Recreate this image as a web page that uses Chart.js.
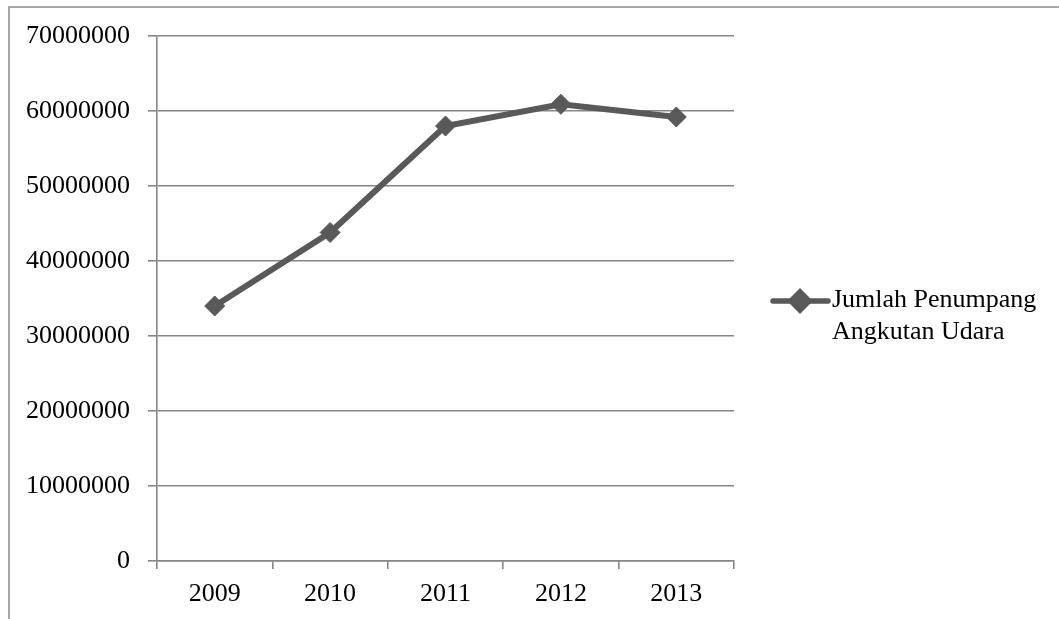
<!DOCTYPE html>
<html>
<head>
<meta charset="utf-8">
<script src="https://cdn.jsdelivr.net/npm/chart.js@4.4.0/dist/chart.umd.min.js"></script>
<style>
  body { margin: 0; background: #fff; }
  #frame { position: absolute; left: 8px; top: 6px; width: 1100px; height: 700px;
           border-left: 2px solid #a8a8a8; border-top: 2px solid #a8a8a8; }
  #wrap { position: absolute; left: 0; top: 0; width: 1059px; height: 619px; }
</style>
</head>
<body>
<div id="frame"></div>
<div id="wrap"><canvas id="chart"></canvas></div>
<script>
const years = ["2009", "2010", "2011", "2012", "2013"];
const passengers = [34000000, 43800000, 58000000, 60900000, 59200000];
const legendLines = ["Jumlah Penumpang", "Angkutan Udara"];
const yTicks = { min: 0, max: 70000000, step: 10000000 };

const lineColor = "#595959";
const gridColor = "#868686";
const font = { family: "'Liberation Serif', 'Times New Roman', serif", size: 26 };

// legend on the right, drawn by hand so the label can wrap on two lines
const sideLegend = {
  id: "sideLegend",
  afterDraw(chart) {
    const ctx = chart.ctx;
    const area = chart.chartArea;
    const x0 = area.right + 39;
    const cy = 301;
    ctx.save();
    ctx.strokeStyle = lineColor;
    ctx.lineWidth = 5.5;
    ctx.lineCap = "round";
    ctx.beginPath();
    ctx.moveTo(x0, cy);
    ctx.lineTo(x0 + 55, cy);
    ctx.stroke();
    Chart.helpers.drawPoint(ctx, {
      pointStyle: "rectRot", radius: 9, rotation: 0, borderWidth: 1
    }, x0 + 27, cy);
    ctx.fillStyle = lineColor;
    ctx.fill();
    ctx.fillStyle = "#000";
    ctx.font = `${font.size}px ${font.family}`;
    ctx.textBaseline = "alphabetic";
    legendLines.forEach((t, i) => ctx.fillText(t, x0 + 59, 307 + i * 32));
    ctx.restore();
  }
};

new Chart(document.getElementById("chart"), {
  type: "line",
  data: {
    labels: years,
    datasets: [{
      label: legendLines.join(" "),
      data: passengers,
      borderColor: lineColor,
      backgroundColor: lineColor,
      borderWidth: 6,
      pointStyle: "rectRot",
      pointRadius: 10,
      pointBorderWidth: 1,
      pointBackgroundColor: lineColor,
      pointBorderColor: lineColor,
      tension: 0
    }]
  },
  options: {
    responsive: true,
    maintainAspectRatio: false,
    animation: false,
    layout: { padding: { top: 36, right: 325, left: 0, bottom: 0 } },
    plugins: { legend: { display: false }, tooltip: { enabled: false } },
    scales: {
      x: {
        offset: true,
        grid: { offset: true, drawOnChartArea: false, color: gridColor, lineWidth: 1.6, tickLength: 8 },
        border: { color: gridColor, width: 1.6 },
        ticks: { color: "#000", font, padding: 10, maxRotation: 0 },
        afterFit: s => { s.height = 58; }
      },
      y: {
        min: yTicks.min,
        max: yTicks.max,
        grid: { color: gridColor, lineWidth: 1.6, tickLength: 9 },
        border: { color: gridColor, width: 1.6 },
        ticks: { stepSize: yTicks.step, color: "#000", font, padding: 18,
                 callback: v => String(v) },
        afterFit: s => { s.width = 157; }
      }
    }
  },
  plugins: [sideLegend]
});
</script>
</body>
</html>
